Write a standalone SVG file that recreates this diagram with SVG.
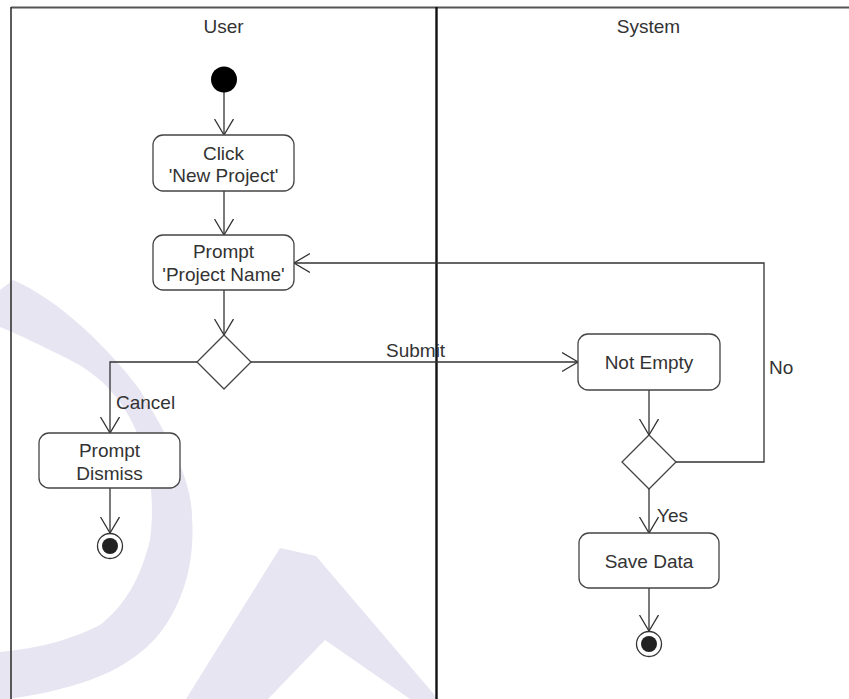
<svg xmlns="http://www.w3.org/2000/svg" width="849" height="699" viewBox="0 0 849 699">
<style>
.t{font-family:"Liberation Sans",Arial,sans-serif;font-size:19px;fill:#333;text-anchor:middle}
.l{font-family:"Liberation Sans",Arial,sans-serif;font-size:19px;fill:#333}
.box{fill:#fff;stroke:#444;stroke-width:1.3}
.c{fill:none;stroke:#333;stroke-width:1.3}
.wm{fill:#e8e5f2}
</style>
<defs>
<marker id="arr" viewBox="0 0 20 22" markerWidth="20" markerHeight="22" refX="16" refY="10" orient="auto" markerUnits="userSpaceOnUse">
<path d="M0,0.5 L16,10 L0,19.5" fill="none" stroke="#333" stroke-width="1.3"/>
</marker>
</defs>
<rect width="849" height="699" fill="#fff"/>
<g id="watermark">
<path class="wm" d="M13,280 C60,300 110,350 140,390 C170,440 192,480 192,517 C195,560 185,600 160,633 C130,670 80,690 0,700 L0,652 C40,648 70,640 100,625 C125,605 140,580 150,540 C155,500 150,470 140,440 C125,400 100,375 70,360 C40,345 20,335 0,327 L0,290 Z"/>
<path class="wm" fill-rule="evenodd" d="M280,548 L316,556 L438,699 L186,699 Z M325,640 L268,699 L410,699 Z"/>
</g>
<g id="lanes">
<line x1="11" y1="7.5" x2="849" y2="7.5" stroke="#555" stroke-width="2"/>
<line x1="11" y1="7" x2="11" y2="699" stroke="#333" stroke-width="1.6"/>
<line x1="436.5" y1="7" x2="436.5" y2="699" stroke="#111" stroke-width="2.4"/>
<text class="t" x="223.5" y="33">User</text>
<text class="t" x="648.5" y="33">System</text>
</g>
<g id="connectors">
<line class="c" x1="224" y1="92" x2="224" y2="135" marker-end="url(#arr)"/>
<line class="c" x1="224" y1="191" x2="224" y2="235" marker-end="url(#arr)"/>
<line class="c" x1="224" y1="290" x2="224" y2="335" marker-end="url(#arr)"/>
<polyline class="c" points="197,362 110,362 110,433" marker-end="url(#arr)"/>
<line class="c" x1="251" y1="362" x2="578" y2="362" marker-end="url(#arr)"/>
<line class="c" x1="649" y1="390" x2="649" y2="435" marker-end="url(#arr)"/>
<polyline class="c" points="676,462 764,462 764,263 294,263" marker-end="url(#arr)"/>
<line class="c" x1="649" y1="489" x2="649" y2="533" marker-end="url(#arr)"/>
<line class="c" x1="649" y1="588" x2="649" y2="631" marker-end="url(#arr)"/>
<line class="c" x1="110" y1="488" x2="110" y2="533" marker-end="url(#arr)"/>
<text class="l" x="386" y="357">Submit</text>
<text class="l" x="116" y="409">Cancel</text>
<text class="l" x="769" y="374">No</text>
<text class="l" x="657" y="522">Yes</text>
</g>
<g id="start"><circle cx="224" cy="79.5" r="13" fill="#000"/></g>
<g id="click"><rect class="box" x="153" y="135" width="141" height="56" rx="10"/><text class="t" x="223.5" y="160">Click</text><text class="t" x="223.5" y="182">'New Project'</text></g>
<g id="prompt"><rect class="box" x="153" y="235" width="141" height="55" rx="10"/><text class="t" x="223.5" y="258">Prompt</text><text class="t" x="223.5" y="281">'Project Name'</text></g>
<g id="decision1"><polygon class="box" points="224,335 251,362 224,389 197,362"/></g>
<g id="dismiss"><rect class="box" x="39" y="433" width="141" height="55" rx="10"/><text class="t" x="109.5" y="457">Prompt</text><text class="t" x="109.5" y="480">Dismiss</text></g>
<g id="end1"><circle cx="110" cy="546" r="12.5" fill="#fff" stroke="#333" stroke-width="1.3"/><circle cx="110" cy="546" r="8" fill="#222"/></g>
<g id="notempty"><rect class="box" x="578" y="334" width="142" height="56" rx="10"/><text class="t" x="649" y="369">Not Empty</text></g>
<g id="decision2"><polygon class="box" points="649,435 676,462 649,489 622,462"/></g>
<g id="savedata"><rect class="box" x="579" y="533" width="140" height="55" rx="10"/><text class="t" x="649" y="568">Save Data</text></g>
<g id="end2"><circle cx="649" cy="644" r="12.5" fill="#fff" stroke="#333" stroke-width="1.3"/><circle cx="649" cy="644" r="8" fill="#222"/></g>
</svg>
